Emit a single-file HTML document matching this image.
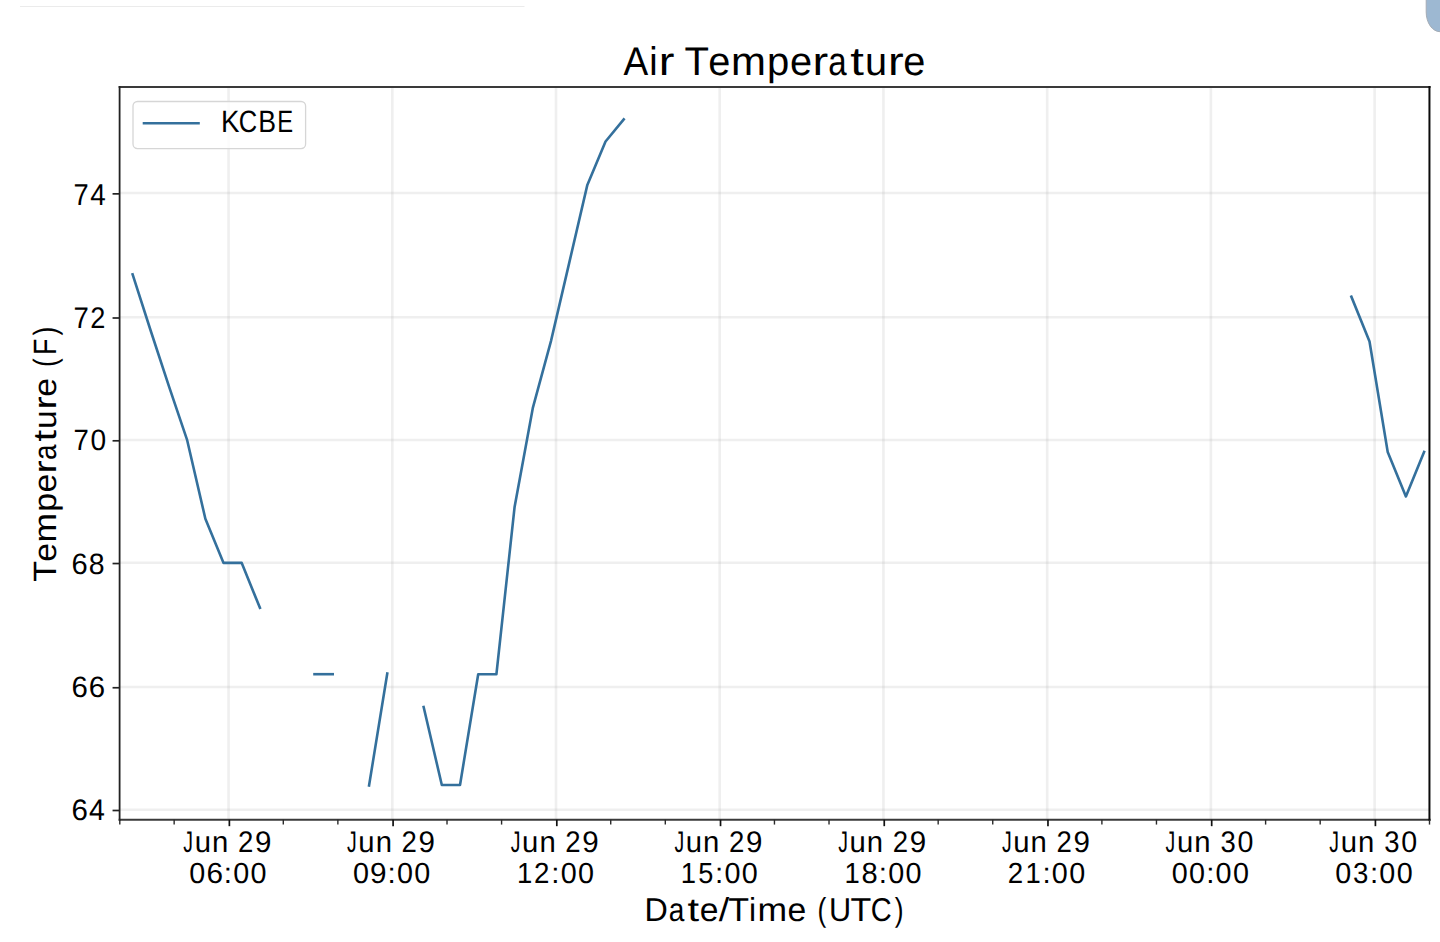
<!DOCTYPE html><html><head><meta charset="utf-8"><title>Air Temperature</title><style>html,body{margin:0;padding:0;background:#fff;overflow:hidden;width:1440px;height:942px}svg{display:block}text{font-family:"Liberation Sans",sans-serif;fill:#000;font-kerning:none;text-rendering:geometricPrecision}</style></head><body>
<svg width="1440" height="942" viewBox="0 0 1440 942">
<rect x="0" y="0" width="1440" height="942" fill="#fff"/>
<rect x="20" y="6" width="504.5" height="1" fill="#ebebeb"/>
<path d="M1426.2,0 L1426.2,12 A13.8,19.7 0 0 0 1440,31.7 L1440,0 Z" fill="#9db8d2"/>
<path d="M1426.2,0 L1426.2,12 A13.8,19.7 0 0 0 1440,31.7" fill="none" stroke="#a4acb5" stroke-width="1"/>
<text y="75.47" font-size="39.97"><tspan x="623.43" textLength="24.71" lengthAdjust="spacingAndGlyphs">A</tspan><tspan x="649.33" textLength="8.35" lengthAdjust="spacingAndGlyphs">i</tspan><tspan x="658.80" textLength="15.69" lengthAdjust="spacingAndGlyphs">r</tspan><tspan x="673.72"> </tspan><tspan x="684.40" textLength="24.50" lengthAdjust="spacingAndGlyphs">T</tspan><tspan x="708.22" textLength="22.10" lengthAdjust="spacingAndGlyphs">e</tspan><tspan x="731.06" textLength="34.91" lengthAdjust="spacingAndGlyphs">m</tspan><tspan x="767.10" textLength="22.26" lengthAdjust="spacingAndGlyphs">p</tspan><tspan x="790.02" textLength="22.10" lengthAdjust="spacingAndGlyphs">e</tspan><tspan x="812.52" textLength="15.69" lengthAdjust="spacingAndGlyphs">r</tspan><tspan x="828.24" textLength="18.40" lengthAdjust="spacingAndGlyphs">a</tspan><tspan x="850.22" textLength="13.66" lengthAdjust="spacingAndGlyphs">t</tspan><tspan x="864.94" textLength="22.06" lengthAdjust="spacingAndGlyphs">u</tspan><tspan x="887.92" textLength="15.69" lengthAdjust="spacingAndGlyphs">r</tspan><tspan x="903.17" textLength="22.10" lengthAdjust="spacingAndGlyphs">e</tspan></text>
<g stroke="#b0b0b0" stroke-opacity="0.2" stroke-width="2.6">
<line x1="228.57" y1="86.88" x2="228.57" y2="819.78"/>
<line x1="392.29" y1="86.88" x2="392.29" y2="819.78"/>
<line x1="556.01" y1="86.88" x2="556.01" y2="819.78"/>
<line x1="719.73" y1="86.88" x2="719.73" y2="819.78"/>
<line x1="883.45" y1="86.88" x2="883.45" y2="819.78"/>
<line x1="1047.17" y1="86.88" x2="1047.17" y2="819.78"/>
<line x1="1210.89" y1="86.88" x2="1210.89" y2="819.78"/>
<line x1="1374.61" y1="86.88" x2="1374.61" y2="819.78"/>
<line x1="119.65" y1="193.06" x2="1429.6" y2="193.06"/>
<line x1="119.65" y1="317.20" x2="1429.6" y2="317.20"/>
<line x1="119.65" y1="440.00" x2="1429.6" y2="440.00"/>
<line x1="119.65" y1="562.74" x2="1429.6" y2="562.74"/>
<line x1="119.65" y1="686.95" x2="1429.6" y2="686.95"/>
<line x1="119.65" y1="809.70" x2="1429.6" y2="809.70"/>
</g>
<g fill="none" stroke="#34709c" stroke-width="2.6" stroke-linejoin="round" stroke-linecap="square">
<polyline points="132.60,274.30 150.79,331.00 168.98,386.30 187.17,440.20 205.36,518.70 223.55,562.90 241.74,562.90 259.93,607.90"/>
<polyline points="314.50,674.20 332.69,674.20"/>
<polyline points="369.07,785.40 387.26,673.60"/>
<polyline points="423.64,707.00 441.83,785.00 460.02,785.00 478.21,674.30 496.40,674.30 514.59,507.00 532.78,408.20 550.97,341.10 569.16,263.10 587.35,184.90 605.54,141.50 623.73,119.40"/>
<polyline points="1351.33,296.60 1369.52,341.50 1387.71,452.00 1405.90,496.40 1424.09,451.90"/>
</g>
<rect x="133" y="101.5" width="172.6" height="47.1" rx="4.5" ry="4.5" fill="#fff" fill-opacity="0.8" stroke="#d6d6d6" stroke-width="1.3"/>
<line x1="144" y1="123.2" x2="198.5" y2="123.2" stroke="#34709c" stroke-width="2.6" stroke-linecap="square"/>
<text y="132.40" font-size="30.96"><tspan x="221.03" textLength="18.47" lengthAdjust="spacingAndGlyphs">K</tspan><tspan x="238.86" textLength="18.40" lengthAdjust="spacingAndGlyphs">C</tspan><tspan x="258.28" textLength="17.79" lengthAdjust="spacingAndGlyphs">B</tspan><tspan x="277.35" textLength="15.87" lengthAdjust="spacingAndGlyphs">E</tspan></text>
<line x1="118.65" y1="86.88" x2="1430.6" y2="86.88" stroke="#3a3a3a" stroke-width="2.0"/>
<line x1="118.65" y1="819.78" x2="1430.6" y2="819.78" stroke="#3a3a3a" stroke-width="2.0"/>
<line x1="119.6" y1="85.88" x2="119.6" y2="820.78" stroke="#222" stroke-width="1.8"/>
<line x1="1429.45" y1="85.88" x2="1429.45" y2="820.78" stroke="#0a0a0a" stroke-width="2.0"/>
<g stroke="#111" stroke-width="1.7">
<line x1="229.37" y1="819.78" x2="229.37" y2="826.18"/>
<line x1="393.09" y1="819.78" x2="393.09" y2="826.18"/>
<line x1="556.81" y1="819.78" x2="556.81" y2="826.18"/>
<line x1="720.53" y1="819.78" x2="720.53" y2="826.18"/>
<line x1="884.25" y1="819.78" x2="884.25" y2="826.18"/>
<line x1="1047.97" y1="819.78" x2="1047.97" y2="826.18"/>
<line x1="1211.69" y1="819.78" x2="1211.69" y2="826.18"/>
<line x1="1375.41" y1="819.78" x2="1375.41" y2="826.18"/>
</g><g stroke="#2a2a2a" stroke-width="1.4">
<line x1="119.80" y1="819.78" x2="119.80" y2="824.58"/>
<line x1="174.15" y1="819.78" x2="174.15" y2="824.58"/>
<line x1="283.29" y1="819.78" x2="283.29" y2="824.58"/>
<line x1="337.87" y1="819.78" x2="337.87" y2="824.58"/>
<line x1="447.01" y1="819.78" x2="447.01" y2="824.58"/>
<line x1="501.59" y1="819.78" x2="501.59" y2="824.58"/>
<line x1="610.73" y1="819.78" x2="610.73" y2="824.58"/>
<line x1="665.30" y1="819.78" x2="665.30" y2="824.58"/>
<line x1="774.45" y1="819.78" x2="774.45" y2="824.58"/>
<line x1="829.02" y1="819.78" x2="829.02" y2="824.58"/>
<line x1="938.17" y1="819.78" x2="938.17" y2="824.58"/>
<line x1="992.74" y1="819.78" x2="992.74" y2="824.58"/>
<line x1="1101.89" y1="819.78" x2="1101.89" y2="824.58"/>
<line x1="1156.46" y1="819.78" x2="1156.46" y2="824.58"/>
<line x1="1265.61" y1="819.78" x2="1265.61" y2="824.58"/>
<line x1="1320.18" y1="819.78" x2="1320.18" y2="824.58"/>
<line x1="1429.50" y1="819.78" x2="1429.50" y2="824.58"/>
</g><g stroke="#222" stroke-width="1.7">
<line x1="112.55" y1="193.86" x2="119.65" y2="193.86"/>
<line x1="112.55" y1="318.00" x2="119.65" y2="318.00"/>
<line x1="112.55" y1="440.80" x2="119.65" y2="440.80"/>
<line x1="112.55" y1="563.54" x2="119.65" y2="563.54"/>
<line x1="112.55" y1="687.75" x2="119.65" y2="687.75"/>
<line x1="112.55" y1="810.50" x2="119.65" y2="810.50"/>
</g>
<text y="851.76" font-size="29.80"><tspan x="183.32" textLength="9.69" lengthAdjust="spacingAndGlyphs">J</tspan><tspan x="194.64" textLength="16.28" lengthAdjust="spacingAndGlyphs">u</tspan><tspan x="211.96" textLength="16.28" lengthAdjust="spacingAndGlyphs">n</tspan><tspan x="228.65"> </tspan><tspan x="237.88" textLength="15.34" lengthAdjust="spacingAndGlyphs">2</tspan><tspan x="254.88" textLength="16.44" lengthAdjust="spacingAndGlyphs">9</tspan></text>
<text y="883.37" font-size="29.12"><tspan x="189.31" textLength="16.00" lengthAdjust="spacingAndGlyphs">0</tspan><tspan x="206.40" textLength="16.56" lengthAdjust="spacingAndGlyphs">6</tspan><tspan x="223.88" textLength="8.21" lengthAdjust="spacingAndGlyphs">:</tspan><tspan x="233.25" textLength="16.00" lengthAdjust="spacingAndGlyphs">0</tspan><tspan x="250.62" textLength="16.00" lengthAdjust="spacingAndGlyphs">0</tspan></text>
<text y="851.76" font-size="29.80"><tspan x="347.04" textLength="9.69" lengthAdjust="spacingAndGlyphs">J</tspan><tspan x="358.36" textLength="16.28" lengthAdjust="spacingAndGlyphs">u</tspan><tspan x="375.68" textLength="16.28" lengthAdjust="spacingAndGlyphs">n</tspan><tspan x="392.37"> </tspan><tspan x="401.60" textLength="15.34" lengthAdjust="spacingAndGlyphs">2</tspan><tspan x="418.60" textLength="16.44" lengthAdjust="spacingAndGlyphs">9</tspan></text>
<text y="883.37" font-size="29.12"><tspan x="353.03" textLength="16.00" lengthAdjust="spacingAndGlyphs">0</tspan><tspan x="370.05" textLength="16.53" lengthAdjust="spacingAndGlyphs">9</tspan><tspan x="387.60" textLength="8.21" lengthAdjust="spacingAndGlyphs">:</tspan><tspan x="396.97" textLength="16.00" lengthAdjust="spacingAndGlyphs">0</tspan><tspan x="414.34" textLength="16.00" lengthAdjust="spacingAndGlyphs">0</tspan></text>
<text y="851.76" font-size="29.80"><tspan x="510.76" textLength="9.69" lengthAdjust="spacingAndGlyphs">J</tspan><tspan x="522.08" textLength="16.28" lengthAdjust="spacingAndGlyphs">u</tspan><tspan x="539.40" textLength="16.28" lengthAdjust="spacingAndGlyphs">n</tspan><tspan x="556.09"> </tspan><tspan x="565.32" textLength="15.34" lengthAdjust="spacingAndGlyphs">2</tspan><tspan x="582.32" textLength="16.44" lengthAdjust="spacingAndGlyphs">9</tspan></text>
<text y="883.37" font-size="29.12"><tspan x="516.98" textLength="15.29" lengthAdjust="spacingAndGlyphs">1</tspan><tspan x="534.05" textLength="15.43" lengthAdjust="spacingAndGlyphs">2</tspan><tspan x="551.32" textLength="8.21" lengthAdjust="spacingAndGlyphs">:</tspan><tspan x="560.69" textLength="16.00" lengthAdjust="spacingAndGlyphs">0</tspan><tspan x="578.06" textLength="16.00" lengthAdjust="spacingAndGlyphs">0</tspan></text>
<text y="851.76" font-size="29.80"><tspan x="674.48" textLength="9.69" lengthAdjust="spacingAndGlyphs">J</tspan><tspan x="685.80" textLength="16.28" lengthAdjust="spacingAndGlyphs">u</tspan><tspan x="703.12" textLength="16.28" lengthAdjust="spacingAndGlyphs">n</tspan><tspan x="719.81"> </tspan><tspan x="729.04" textLength="15.34" lengthAdjust="spacingAndGlyphs">2</tspan><tspan x="746.04" textLength="16.44" lengthAdjust="spacingAndGlyphs">9</tspan></text>
<text y="883.37" font-size="29.12"><tspan x="680.70" textLength="15.29" lengthAdjust="spacingAndGlyphs">1</tspan><tspan x="698.19" textLength="15.10" lengthAdjust="spacingAndGlyphs">5</tspan><tspan x="715.04" textLength="8.21" lengthAdjust="spacingAndGlyphs">:</tspan><tspan x="724.41" textLength="16.00" lengthAdjust="spacingAndGlyphs">0</tspan><tspan x="741.78" textLength="16.00" lengthAdjust="spacingAndGlyphs">0</tspan></text>
<text y="851.76" font-size="29.80"><tspan x="838.20" textLength="9.69" lengthAdjust="spacingAndGlyphs">J</tspan><tspan x="849.52" textLength="16.28" lengthAdjust="spacingAndGlyphs">u</tspan><tspan x="866.84" textLength="16.28" lengthAdjust="spacingAndGlyphs">n</tspan><tspan x="883.53"> </tspan><tspan x="892.76" textLength="15.34" lengthAdjust="spacingAndGlyphs">2</tspan><tspan x="909.76" textLength="16.44" lengthAdjust="spacingAndGlyphs">9</tspan></text>
<text y="883.37" font-size="29.12"><tspan x="844.42" textLength="15.29" lengthAdjust="spacingAndGlyphs">1</tspan><tspan x="861.48" textLength="16.18" lengthAdjust="spacingAndGlyphs">8</tspan><tspan x="878.76" textLength="8.21" lengthAdjust="spacingAndGlyphs">:</tspan><tspan x="888.13" textLength="16.00" lengthAdjust="spacingAndGlyphs">0</tspan><tspan x="905.50" textLength="16.00" lengthAdjust="spacingAndGlyphs">0</tspan></text>
<text y="851.76" font-size="29.80"><tspan x="1001.92" textLength="9.69" lengthAdjust="spacingAndGlyphs">J</tspan><tspan x="1013.24" textLength="16.28" lengthAdjust="spacingAndGlyphs">u</tspan><tspan x="1030.56" textLength="16.28" lengthAdjust="spacingAndGlyphs">n</tspan><tspan x="1047.25"> </tspan><tspan x="1056.48" textLength="15.34" lengthAdjust="spacingAndGlyphs">2</tspan><tspan x="1073.48" textLength="16.44" lengthAdjust="spacingAndGlyphs">9</tspan></text>
<text y="883.37" font-size="29.12"><tspan x="1007.84" textLength="15.43" lengthAdjust="spacingAndGlyphs">2</tspan><tspan x="1025.51" textLength="15.29" lengthAdjust="spacingAndGlyphs">1</tspan><tspan x="1042.48" textLength="8.21" lengthAdjust="spacingAndGlyphs">:</tspan><tspan x="1051.85" textLength="16.00" lengthAdjust="spacingAndGlyphs">0</tspan><tspan x="1069.22" textLength="16.00" lengthAdjust="spacingAndGlyphs">0</tspan></text>
<text y="851.76" font-size="29.80"><tspan x="1165.59" textLength="9.69" lengthAdjust="spacingAndGlyphs">J</tspan><tspan x="1176.91" textLength="16.28" lengthAdjust="spacingAndGlyphs">u</tspan><tspan x="1194.23" textLength="16.28" lengthAdjust="spacingAndGlyphs">n</tspan><tspan x="1210.92"> </tspan><tspan x="1220.57" textLength="15.29" lengthAdjust="spacingAndGlyphs">3</tspan><tspan x="1237.49" textLength="15.92" lengthAdjust="spacingAndGlyphs">0</tspan></text>
<text y="883.37" font-size="29.12"><tspan x="1171.63" textLength="16.00" lengthAdjust="spacingAndGlyphs">0</tspan><tspan x="1189.00" textLength="16.00" lengthAdjust="spacingAndGlyphs">0</tspan><tspan x="1206.20" textLength="8.21" lengthAdjust="spacingAndGlyphs">:</tspan><tspan x="1215.57" textLength="16.00" lengthAdjust="spacingAndGlyphs">0</tspan><tspan x="1232.94" textLength="16.00" lengthAdjust="spacingAndGlyphs">0</tspan></text>
<text y="851.76" font-size="29.80"><tspan x="1329.31" textLength="9.69" lengthAdjust="spacingAndGlyphs">J</tspan><tspan x="1340.63" textLength="16.28" lengthAdjust="spacingAndGlyphs">u</tspan><tspan x="1357.95" textLength="16.28" lengthAdjust="spacingAndGlyphs">n</tspan><tspan x="1374.64"> </tspan><tspan x="1384.29" textLength="15.29" lengthAdjust="spacingAndGlyphs">3</tspan><tspan x="1401.21" textLength="15.92" lengthAdjust="spacingAndGlyphs">0</tspan></text>
<text y="883.37" font-size="29.12"><tspan x="1335.35" textLength="16.00" lengthAdjust="spacingAndGlyphs">0</tspan><tspan x="1353.07" textLength="15.37" lengthAdjust="spacingAndGlyphs">3</tspan><tspan x="1369.92" textLength="8.21" lengthAdjust="spacingAndGlyphs">:</tspan><tspan x="1379.29" textLength="16.00" lengthAdjust="spacingAndGlyphs">0</tspan><tspan x="1396.66" textLength="16.00" lengthAdjust="spacingAndGlyphs">0</tspan></text>
<text y="204.84" font-size="30.17"><tspan x="73.60" textLength="15.17" lengthAdjust="spacingAndGlyphs">7</tspan><tspan x="90.31" textLength="15.51" lengthAdjust="spacingAndGlyphs">4</tspan></text>
<text y="327.50" font-size="29.83"><tspan x="73.55" textLength="15.33" lengthAdjust="spacingAndGlyphs">7</tspan><tspan x="90.36" textLength="15.10" lengthAdjust="spacingAndGlyphs">2</tspan></text>
<text y="450.11" font-size="29.38"><tspan x="73.55" textLength="15.31" lengthAdjust="spacingAndGlyphs">7</tspan><tspan x="90.41" textLength="15.65" lengthAdjust="spacingAndGlyphs">0</tspan></text>
<text y="574.38" font-size="29.43"><tspan x="71.52" textLength="16.21" lengthAdjust="spacingAndGlyphs">6</tspan><tspan x="88.71" textLength="15.83" lengthAdjust="spacingAndGlyphs">8</tspan></text>
<text y="697.21" font-size="29.42"><tspan x="71.51" textLength="16.35" lengthAdjust="spacingAndGlyphs">6</tspan><tspan x="88.65" textLength="16.35" lengthAdjust="spacingAndGlyphs">6</tspan></text>
<text y="819.91" font-size="29.66"><tspan x="71.50" textLength="16.41" lengthAdjust="spacingAndGlyphs">6</tspan><tspan x="88.98" textLength="15.85" lengthAdjust="spacingAndGlyphs">4</tspan></text>
<text y="920.80" font-size="33.04"><tspan x="644.55" textLength="23.31" lengthAdjust="spacingAndGlyphs">D</tspan><tspan x="668.84" textLength="15.60" lengthAdjust="spacingAndGlyphs">a</tspan><tspan x="687.49" textLength="11.59" lengthAdjust="spacingAndGlyphs">t</tspan><tspan x="699.81" textLength="18.74" lengthAdjust="spacingAndGlyphs">e</tspan><tspan x="718.71" textLength="10.51" lengthAdjust="spacingAndGlyphs">/</tspan><tspan x="728.37" textLength="20.79" lengthAdjust="spacingAndGlyphs">T</tspan><tspan x="749.09" textLength="7.09" lengthAdjust="spacingAndGlyphs">i</tspan><tspan x="757.42" textLength="29.61" lengthAdjust="spacingAndGlyphs">m</tspan><tspan x="787.63" textLength="18.74" lengthAdjust="spacingAndGlyphs">e</tspan><tspan x="806.54"> </tspan><tspan x="817.50" textLength="8.78" lengthAdjust="spacingAndGlyphs">(</tspan><tspan x="828.97" textLength="22.14" lengthAdjust="spacingAndGlyphs">U</tspan><tspan x="850.61" textLength="20.79" lengthAdjust="spacingAndGlyphs">T</tspan><tspan x="870.80" textLength="20.92" lengthAdjust="spacingAndGlyphs">C</tspan><tspan x="894.65" textLength="8.78" lengthAdjust="spacingAndGlyphs">)</tspan></text>
<g transform="translate(55.6,581.1) rotate(-90)"><text y="0.00" font-size="32.27"><tspan x="-0.76" textLength="20.74" lengthAdjust="spacingAndGlyphs">T</tspan><tspan x="19.40" textLength="18.70" lengthAdjust="spacingAndGlyphs">e</tspan><tspan x="38.73" textLength="29.55" lengthAdjust="spacingAndGlyphs">m</tspan><tspan x="69.24" textLength="18.84" lengthAdjust="spacingAndGlyphs">p</tspan><tspan x="88.64" textLength="18.70" lengthAdjust="spacingAndGlyphs">e</tspan><tspan x="107.69" textLength="13.28" lengthAdjust="spacingAndGlyphs">r</tspan><tspan x="120.99" textLength="15.57" lengthAdjust="spacingAndGlyphs">a</tspan><tspan x="139.59" textLength="11.56" lengthAdjust="spacingAndGlyphs">t</tspan><tspan x="152.06" textLength="18.67" lengthAdjust="spacingAndGlyphs">u</tspan><tspan x="171.50" textLength="13.28" lengthAdjust="spacingAndGlyphs">r</tspan><tspan x="184.41" textLength="18.70" lengthAdjust="spacingAndGlyphs">e</tspan><tspan x="203.28"> </tspan><tspan x="214.22" textLength="8.76" lengthAdjust="spacingAndGlyphs">(</tspan><tspan x="226.19" textLength="16.30" lengthAdjust="spacingAndGlyphs">F</tspan><tspan x="245.57" textLength="8.76" lengthAdjust="spacingAndGlyphs">)</tspan></text></g>
</svg></body></html>
